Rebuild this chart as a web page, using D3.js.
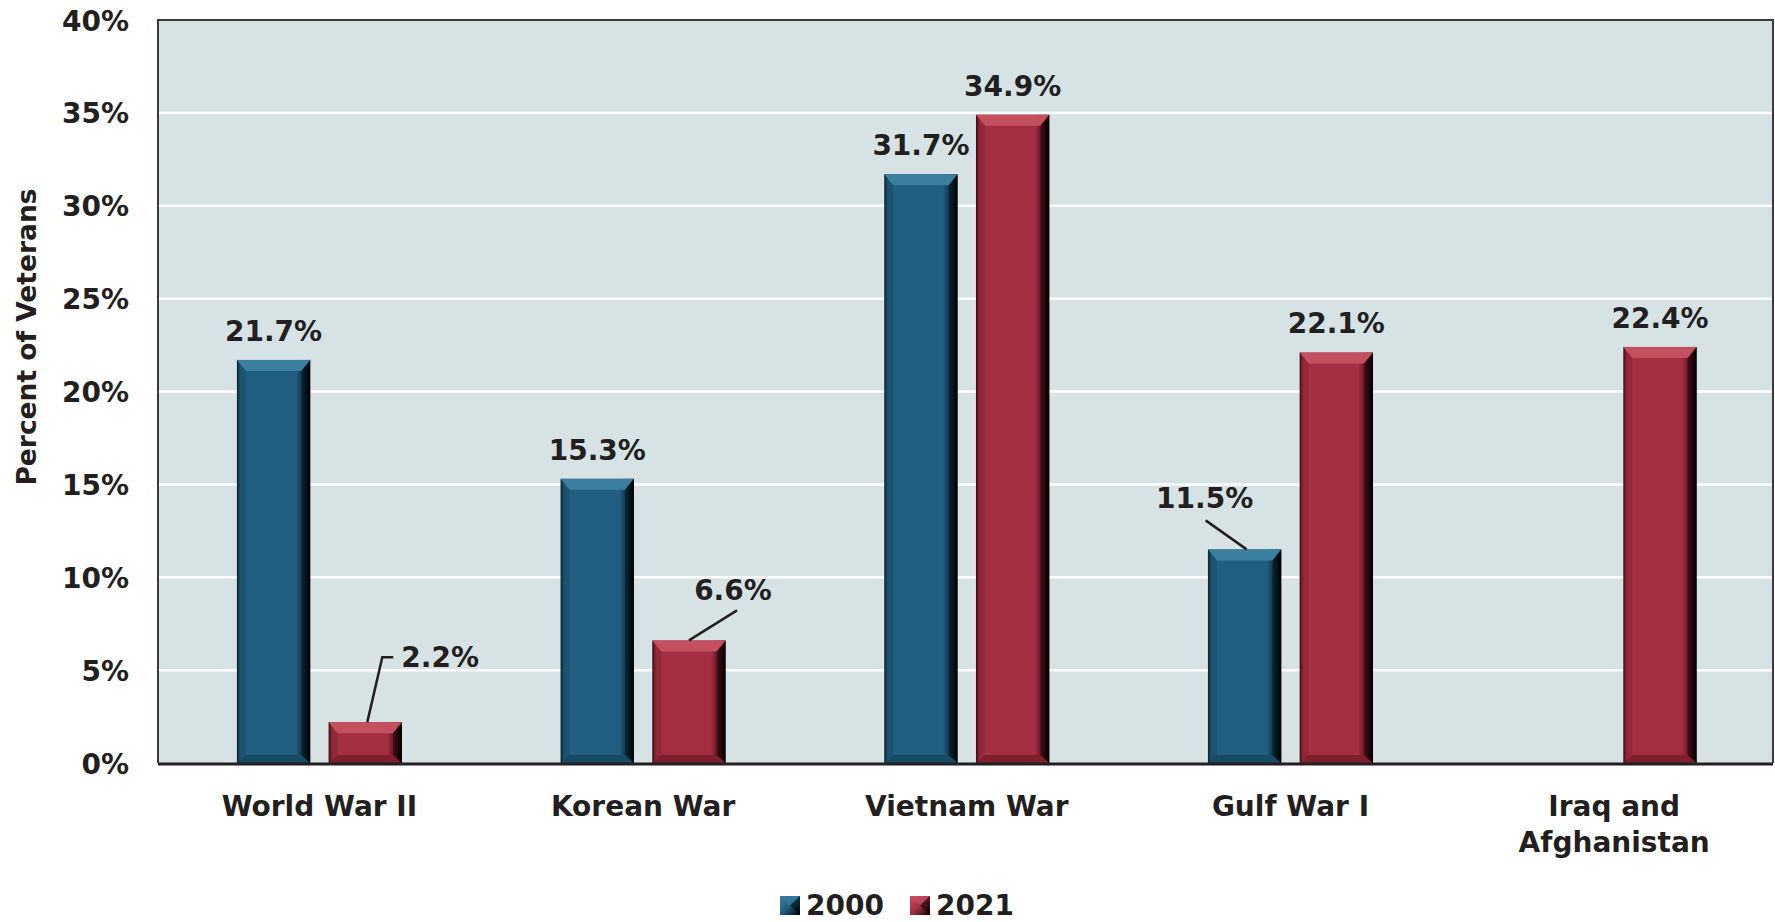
<!DOCTYPE html>
<html>
<head>
<meta charset="utf-8">
<script src="https://cdn.jsdelivr.net/npm/d3@7"></script>
<style>
  html, body { margin: 0; padding: 0; background: #ffffff; }
  svg { display: block; }
  text { font-family: "DejaVu Sans", sans-serif; font-weight: bold; fill: #231f20; }
</style>
</head>
<body>
<svg id="chart" width="1775" height="922"></svg>
<script>
// ---- Data ----
const categories = ["World War II", "Korean War", "Vietnam War", "Gulf War I", "Iraq and Afghanistan"];
const seriesNames = ["2000", "2021"];
const values2000 = [21.7, 15.3, 31.7, 11.5, null];
const values2021 = [2.2, 6.6, 34.9, 22.1, 22.4];
const yTicks = [0, 5, 10, 15, 20, 25, 30, 35, 40];
const yTitle = "Percent of Veterans";

// ---- Layout ----
const svg = d3.select("#chart");
const W = 1775, H = 922;
const margin = { left: 158, right: 2, top: 20, bottom: 159 };
const plotL = margin.left, plotR = W - margin.right, plotT = margin.top, plotB = H - margin.bottom;

const x0 = d3.scaleBand().domain(categories).range([plotL - 0.4, plotR + 3]).paddingInner(0.49).paddingOuter(0.245);
const x1 = d3.scaleBand().domain(seriesNames).range([0, x0.bandwidth()]).paddingInner(0.2);
const y = d3.scaleLinear().domain([0, 40]).range([plotB, plotT]);

const palette = {
  "2000": { main: "#215f80", light: "#3a7f9e", dark: "#0a2a3a", edge: "#000000", bottom: "#174a63" },
  "2021": { main: "#a52f42", light: "#c4505f", dark: "#4a0d18", edge: "#000000", bottom: "#7f1f2e" }
};

const defs = svg.append("defs");
seriesNames.forEach(s => {
  const c = palette[s];
  const g = defs.append("linearGradient").attr("id", "grad" + s).attr("x1", "0").attr("x2", "1").attr("y1", "0").attr("y2", "0");
  g.append("stop").attr("offset", "0").attr("stop-color", c.dark);
  g.append("stop").attr("offset", "0.05").attr("stop-color", c.main);
  g.append("stop").attr("offset", "0.80").attr("stop-color", c.main);
  g.append("stop").attr("offset", "0.92").attr("stop-color", c.dark);
  g.append("stop").attr("offset", "1").attr("stop-color", c.edge);
  const lg = defs.append("linearGradient").attr("id", "leg" + s).attr("x1", "0").attr("x2", "1").attr("y1", "0").attr("y2", "1");
  lg.append("stop").attr("offset", "0").attr("stop-color", c.light);
  lg.append("stop").attr("offset", "0.5").attr("stop-color", c.main);
  lg.append("stop").attr("offset", "1").attr("stop-color", c.edge);
});

// plot background
svg.append("rect").attr("x", plotL).attr("y", plotT).attr("width", plotR - plotL).attr("height", plotB - plotT)
  .attr("fill", "#d7e2e5");

// gridlines
svg.append("g").selectAll("line").data(yTicks.filter(t => t > 0 && t < 40)).join("line")
  .attr("x1", plotL).attr("x2", plotR).attr("y1", d => y(d)).attr("y2", d => y(d))
  .attr("stroke", "#ffffff").attr("stroke-width", 2.5);

// border (left, top, right)
svg.append("path")
  .attr("d", `M${plotL},${plotB} L${plotL},${plotT} L${plotR},${plotT} L${plotR},${plotB}`)
  .attr("fill", "none").attr("stroke", "#3a3a3a").attr("stroke-width", 2);

// y axis labels
const yAxis = d3.axisLeft(y).tickValues(yTicks).tickFormat(d => d + "%").tickSize(0).tickPadding(29);
const yG = svg.append("g").attr("transform", `translate(${plotL},0)`).call(yAxis);
yG.select(".domain").remove();
yG.selectAll("text").attr("font-size", 28).attr("font-family", "DejaVu Sans").attr("font-weight", "bold")
  .attr("fill", "#231f20").attr("dy", "0.36em");

// y title
svg.append("text").attr("transform", `translate(36,337) rotate(-90)`)
  .attr("text-anchor", "middle").attr("font-size", 26.5).text(yTitle);

// bars
const barData = [];
categories.forEach((cat, i) => {
  [values2000[i], values2021[i]].forEach((v, j) => {
    if (v !== null && v !== undefined) barData.push({ cat, series: seriesNames[j], value: v });
  });
});

const bars = svg.append("g").selectAll("g").data(barData).join("g");
bars.each(function(d) {
  const g = d3.select(this);
  const c = palette[d.series];
  const bx = x0(d.cat) + x1(d.series), bw = x1.bandwidth();
  const by = y(d.value), bh = y(0) - y(d.value);
  const bev = Math.min(11, bh / 3), side = 9;
  g.append("rect").attr("x", bx).attr("y", by).attr("width", bw).attr("height", bh).attr("fill", `url(#grad${d.series})`);
  // top bevel
  g.append("polygon").attr("points", [[bx, by], [bx + bw, by], [bx + bw - side, by + bev], [bx + side, by + bev]].join(" "))
    .attr("fill", c.light);
  // bottom bevel
  const bb = Math.min(8, bh / 4);
  g.append("polygon").attr("points", [[bx, y(0)], [bx + bw, y(0)], [bx + bw - side, y(0) - bb], [bx + side, y(0) - bb]].join(" "))
    .attr("fill", c.bottom);
  // right darker bevel
  g.append("polygon").attr("points", [[bx + bw, by], [bx + bw, y(0)], [bx + bw - side, y(0) - bb], [bx + bw - side, by + bev]].join(" "))
    .attr("fill", "#000").attr("opacity", 0.35);
  // left bevel
  g.append("polygon").attr("points", [[bx, by], [bx, y(0)], [bx + side, y(0) - bb], [bx + side, by + bev]].join(" "))
    .attr("fill", "#000").attr("opacity", 0.12);
});

// x axis baseline
svg.append("line").attr("x1", plotL).attr("x2", plotR).attr("y1", plotB + 1).attr("y2", plotB + 1)
  .attr("stroke", "#231f20").attr("stroke-width", 3);

// category labels
const xAxis = d3.axisBottom(x0).tickSize(0).tickPadding(0);
const xG = svg.append("g").attr("transform", `translate(0,${plotB})`).call(xAxis);
xG.select(".domain").remove();
xG.selectAll("text").each(function(d) {
  const t = d3.select(this);
  t.text(null).attr("font-size", 28).attr("font-family", "DejaVu Sans").attr("font-weight", "bold")
    .attr("fill", "#231f20").attr("y", 0).attr("dy", null);
  const lines = d === "Iraq and Afghanistan" ? ["Iraq and", "Afghanistan"] : [d];
  lines.forEach((ln, k) => t.append("tspan").attr("x", 0).attr("y", 53 + k * 36).text(ln));
});

// value labels (callout offsets for small bars are layout settings)
const callouts = {
  "World War II|2021": { line: [[2, 0], [17, -65], [28, -65]], text: [36, -55], anchor: "start" },
  "Korean War|2021": { line: [[0, 0], [48, -30]], text: [44, -40], anchor: "middle" },
  "Gulf War I|2000": { line: [[2, 0], [-39, -29]], text: [-40, -41], anchor: "middle" }
};
const lbl = svg.append("g");
barData.forEach(d => {
  const cx = x0(d.cat) + x1(d.series) + x1.bandwidth() / 2;
  const ty = y(d.value);
  const key = d.cat + "|" + d.series;
  const txt = d.value.toFixed(1) + "%";
  if (callouts[key]) {
    const co = callouts[key];
    lbl.append("path").attr("d", d3.line()(co.line.map(p => [cx + p[0], ty + p[1]])))
      .attr("fill", "none").attr("stroke", "#231f20").attr("stroke-width", 2.5);
    lbl.append("text").attr("x", cx + co.text[0]).attr("y", ty + co.text[1])
      .attr("text-anchor", co.anchor).attr("font-size", 28).text(txt);
  } else {
    lbl.append("text").attr("x", cx).attr("y", ty - 19).attr("text-anchor", "middle").attr("font-size", 28).text(txt);
  }
});

// legend
const legend = svg.append("g").attr("transform", "translate(780,896)");
seriesNames.forEach((s, i) => {
  const g = legend.append("g").attr("transform", `translate(${i * 130},0)`);
  g.append("rect").attr("width", 20).attr("height", 19).attr("fill", `url(#leg${s})`);
  g.append("polygon").attr("points", "0,0 20,0 10,9.5").attr("fill", palette[s].light).attr("opacity", 0.6);
  g.append("polygon").attr("points", "20,0 20,19 10,9.5").attr("fill", "#000").attr("opacity", 0.5);
  g.append("text").attr("x", 26).attr("y", 19).attr("font-size", 28).text(s);
});
</script>
</body>
</html>
